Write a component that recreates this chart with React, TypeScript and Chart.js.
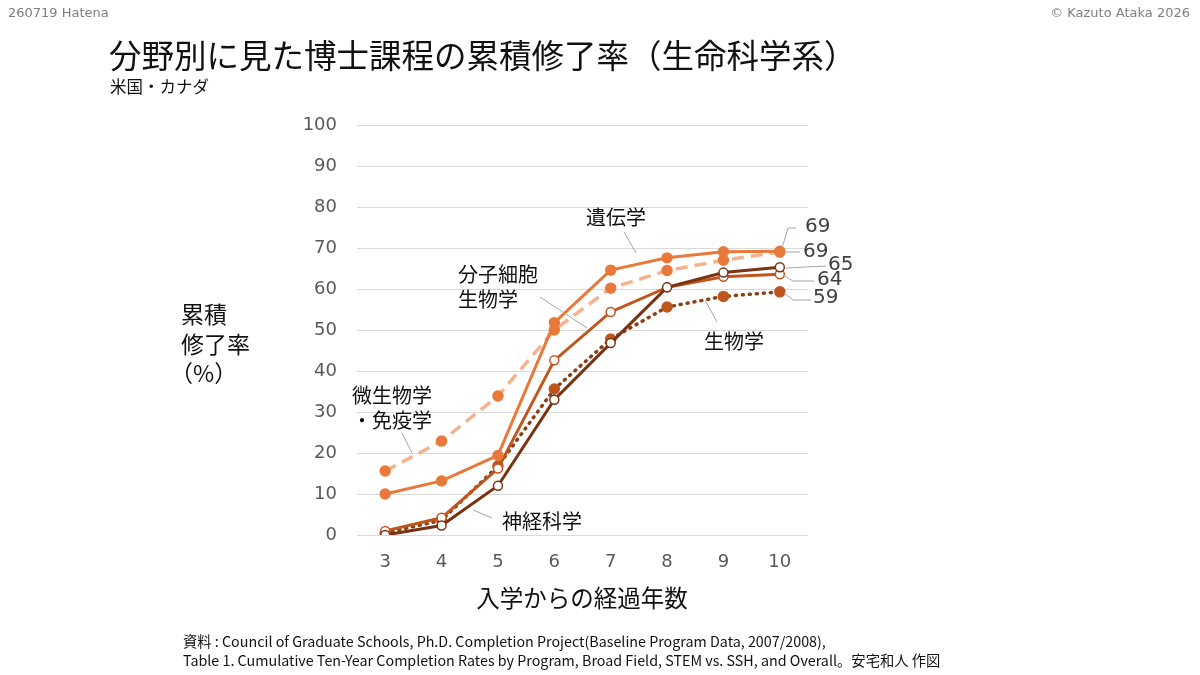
import React, { useEffect, useRef } from 'react';
import { Chart, registerables } from 'chart.js';

Chart.register(...registerables);

// years since entry
const years = ['3', '4', '5', '6', '7', '8', '9', '10'];

// cumulative completion rate (%)
const genetics = [10, 13.2, 19.4, 51.8, 64.6, 67.6, 69.1, 69.2];
const microImmuno = [15.6, 22.9, 33.9, 50, 60.2, 64.5, 67, 69];
const molCellBio = [1, 4.2, 16.2, 42.6, 54.4, 60.4, 63, 63.6];
const neuroscience = [0, 2.3, 12, 33, 46.8, 60.4, 64, 65.3];
const biology = [0.5, 3.6, 16.8, 35.6, 47.8, 55.6, 58.2, 59.3];

const yTicks = [0, 10, 20, 30, 40, 50, 60, 70, 80, 90, 100];

const LATIN = "'DejaVu Sans', 'Noto Sans CJK JP', sans-serif";
const JP = "'Noto Sans CJK JP', sans-serif";

const C_GEN = '#E8793A';
const C_MICRO_LINE = '#F2B38E';
const C_MOL = '#C0561E';
const C_NEURO = '#7A3312';
const C_BIO = '#8A3F14';
const C_BIO_PT = '#BE5620';
const LEADER = '#A6A6A6';

// annotation layout (text lines, position, leader line)
const seriesNotes = [
  { lines: ['遺伝学'], x: 586, y: 217, leader: [[624, 232], [636, 253]] },
  { lines: ['分子細胞', '生物学'], x: 458, y: 274, leader: [[540, 297], [587, 328]] },
  { lines: ['生物学'], x: 704, y: 341, leader: [[717, 322], [705, 300]] },
  { lines: ['微生物学', '・免疫学'], x: 352, y: 395, leader: [[402, 433], [412, 453]] },
  { lines: ['神経科学'], x: 502, y: 521, leader: [[492, 518], [473, 510]] },
];

const valueNotes = [
  { data: genetics, x: 805, y: 227, leader: [[782, 248], [788, 228], [796, 228]] },
  { data: microImmuno, x: 803, y: 252, leader: [[784, 252], [800, 252]] },
  { data: neuroscience, x: 828, y: 265, leader: [[786, 268], [826, 266]] },
  { data: molCellBio, x: 817, y: 280, leader: [[783, 275], [793, 281], [814, 281]] },
  { data: biology, x: 813, y: 298, leader: [[784, 293], [793, 300], [811, 300]] },
];

const textPlugin = {
  id: 'slideText',
  afterDraw(chart: Chart) {
    const ctx = chart.ctx;
    ctx.save();
    ctx.textBaseline = 'middle';
    ctx.textAlign = 'left';

    // header / footer
    ctx.fillStyle = '#7F7F7F';
    ctx.font = `13px ${LATIN}`;
    ctx.fillText('260719 Hatena', 8, 14);
    ctx.textAlign = 'right';
    ctx.fillText('© Kazuto Ataka 2026', 1190, 14);
    ctx.textAlign = 'left';

    ctx.fillStyle = '#111111';
    ctx.font = `32.5px ${JP}`;
    ctx.fillText('分野別に見た博士課程の累積修了率（生命科学系）', 109, 56);
    ctx.font = `16.5px ${JP}`;
    ctx.fillText('米国・カナダ', 110, 87);

    ctx.font = `14.3px ${JP}`;
    ctx.fillText('資料 : Council of Graduate Schools, Ph.D. Completion Project(Baseline Program Data, 2007/2008),', 183, 642);
    ctx.fillText('Table 1. Cumulative Ten-Year Completion Rates by Program, Broad Field, STEM vs. SSH, and Overall。安宅和人 作図', 183, 661);

    // axis titles
    ctx.font = `23px ${JP}`;
    ctx.fillText('累積', 181, 314);
    ctx.fillText('修了率', 181, 344);
    ctx.fillText('（%）', 170, 373);
    ctx.font = `23.5px ${JP}`;
    ctx.textAlign = 'center';
    ctx.fillText('入学からの経過年数', 582, 598);
    ctx.textAlign = 'left';

    // leader lines
    ctx.strokeStyle = LEADER;
    ctx.lineWidth = 1;
    [...seriesNotes, ...valueNotes].forEach(n => {
      ctx.beginPath();
      n.leader.forEach(([px, py], i) => (i === 0 ? ctx.moveTo(px, py) : ctx.lineTo(px, py)));
      ctx.stroke();
    });

    // series labels
    ctx.fillStyle = '#111111';
    ctx.font = `20px ${JP}`;
    seriesNotes.forEach(n => {
      n.lines.forEach((t, i) => ctx.fillText(t, n.x, n.y + i * 25));
    });

    // end values
    ctx.fillStyle = '#404040';
    ctx.font = `20px ${LATIN}`;
    valueNotes.forEach(n => {
      ctx.fillText(String(Math.round(n.data[n.data.length - 1])), n.x, n.y);
    });

    ctx.restore();
  },
};

export default function App() {
  const chartRef = useRef<HTMLCanvasElement>(null);
  const chartInstance = useRef<Chart | null>(null);

  useEffect(() => {
    if (!chartRef.current) return;
    if (chartInstance.current) chartInstance.current.destroy();

    chartInstance.current = new Chart(chartRef.current, {
      type: 'line',
      data: {
        labels: years,
        datasets: [
          {
            label: '遺伝学',
            data: genetics,
            borderColor: C_GEN,
            backgroundColor: C_GEN,
            borderWidth: 3,
            pointRadius: 4.2,
            pointBackgroundColor: C_GEN,
            pointBorderColor: C_GEN,
          },
          {
            label: '神経科学',
            data: neuroscience,
            borderColor: C_NEURO,
            borderWidth: 3,
            pointRadius: 4.5,
            pointBorderWidth: 1.5,
            pointBackgroundColor: '#ffffff',
            pointBorderColor: C_NEURO,
          },
          {
            label: '分子細胞生物学',
            data: molCellBio,
            borderColor: C_MOL,
            borderWidth: 3,
            pointRadius: 4.5,
            pointBorderWidth: 1.5,
            pointBackgroundColor: '#ffffff',
            pointBorderColor: C_MOL,
          },
          {
            label: '生物学',
            data: biology,
            borderColor: C_BIO,
            borderWidth: 3.5,
            borderDash: [1, 6],
            borderCapStyle: 'round',
            pointRadius: 4,
            pointBackgroundColor: C_BIO_PT,
            pointBorderColor: C_BIO_PT,
          },
          {
            label: '微生物学・免疫学',
            data: microImmuno,
            borderColor: C_MICRO_LINE,
            borderWidth: 3.5,
            borderDash: [12, 7],
            pointRadius: 4,
            pointBackgroundColor: C_GEN,
            pointBorderColor: C_GEN,
          },
        ],
      },
      options: {
        responsive: true,
        maintainAspectRatio: false,
        animation: false,
        layout: { padding: { left: 257, right: 392, top: 125, bottom: 90 } },
        plugins: {
          legend: { display: false },
          tooltip: { enabled: false },
        },
        scales: {
          x: {
            type: 'category',
            offset: true,
            grid: { display: false, drawTicks: false },
            border: { display: false },
            ticks: { color: '#595959', font: { size: 18, family: LATIN }, padding: 17 },
            afterFit: (scale: any) => { scale.height = 50; },
          },
          y: {
            min: 0,
            max: 100,
            grid: { color: '#D9D9D9', lineWidth: 1, drawTicks: false },
            border: { display: false },
            afterBuildTicks: (scale: any) => { scale.ticks = yTicks.map(v => ({ value: v })); },
            ticks: { color: '#595959', font: { size: 18, family: LATIN }, padding: 20 },
            afterFit: (scale: any) => { scale.width = 100; },
          },
        },
      },
      plugins: [textPlugin],
    });

    return () => {
      if (chartInstance.current) chartInstance.current.destroy();
    };
  }, []);

  return (
    <div style={{ position: 'fixed', left: 0, top: 0, width: 1200, height: 675, background: '#ffffff' }}>
      <canvas ref={chartRef}></canvas>
    </div>
  );
}
